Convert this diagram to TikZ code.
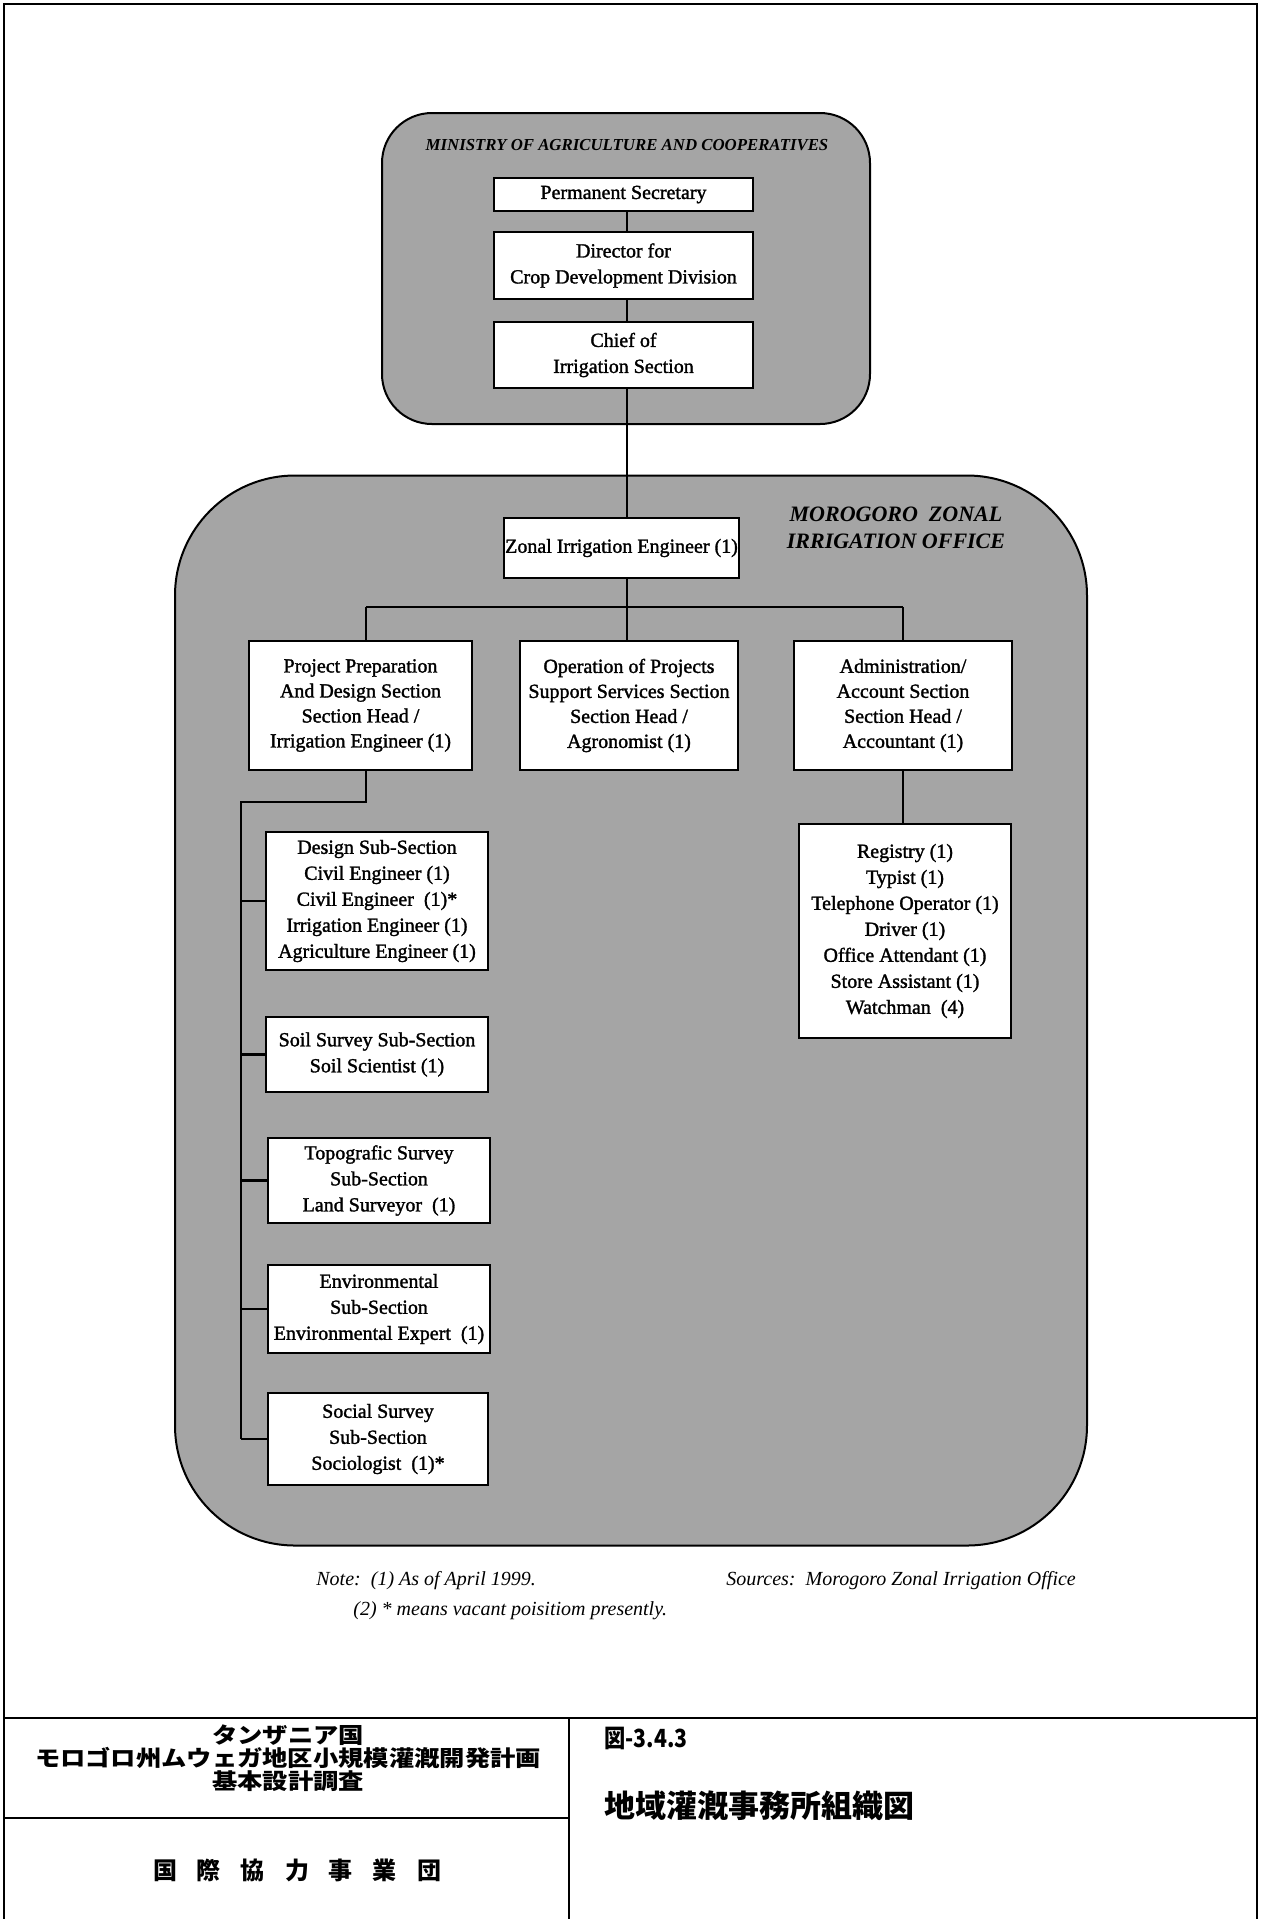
\documentclass[tikz,border=0pt]{standalone}
\usepackage{fontspec}
\setmainfont{Liberation Serif}
\newfontfamily\boxfont{Liberation Serif}[FakeBold=1.5]
\newfontfamily\headfont{Liberation Serif}
\newfontfamily\notefont{Liberation Serif}
\newfontfamily\cjk{Noto Sans CJK JP}
\newfontfamily\cjkwide{Noto Sans CJK JP}[FakeStretch=1.15]
\newfontfamily\cjknarrow{Noto Sans CJK JP}[FakeStretch=0.85]
\definecolor{halftone}{RGB}{165,165,165}
\tikzset{
  zone/.style={draw, line width=1pt, fill=halftone, inner sep=0pt},
  orgbox/.style={draw, line width=1.3pt, fill=white, align=center, inner sep=0pt,
    font=\boxfont\fontsize{10}{13}\selectfont},
  link/.style={line width=1.3pt},
  frameline/.style={line width=1pt},
  label/.style={inner sep=0pt},
  jp/.style={inner sep=0pt, font=\cjkwide\bfseries\fontsize{11}{13}\selectfont},
}
\begin{document}
\begin{tikzpicture}[x=0.5pt,y=-0.5pt]
\useasboundingbox (0,0) rectangle (1261,1919);

% sheet frame and title block rules
\draw[frameline] (4,1919) -- (4,4) -- (1257,4) -- (1257,1919);
\draw[frameline] (4,1718) -- (1257,1718);
\draw[frameline] (569,1718) -- (569,1919);
\draw[frameline] (4,1818) -- (569,1818);

% grouping panels
\node[zone, rounded corners=25pt, minimum width=244pt, minimum height=155.5pt] (ministry) at (626,268.5) {};
\node[zone, rounded corners=60pt, minimum width=456pt, minimum height=535pt] (office) at (631,1010.5) {};

\node[label, font=\headfont\bfseries\itshape\fontsize{8.4}{10}\selectfont] (mintitle) at (627,145) {MINISTRY OF AGRICULTURE AND COOPERATIVES};
\node[label, align=center, font=\headfont\bfseries\itshape\fontsize{11}{13.5}\selectfont] (offtitle) at (896,528) {MOROGORO\ \ ZONAL\\IRRIGATION OFFICE};

% ministry posts
\node[orgbox, minimum width=129.5pt, minimum height=16.5pt] (perm) at (623.5,194.5) {Permanent Secretary};
\node[orgbox, minimum width=129.5pt, minimum height=33.5pt] (dir) at (623.5,265.5) {Director for\\Crop Development Division};
\node[orgbox, minimum width=129.5pt, minimum height=33pt] (chief) at (623.5,355) {Chief of\\Irrigation Section};

% zonal office posts
\node[orgbox, minimum width=117.5pt, minimum height=30pt] (zonal) at (621.5,548) {Zonal Irrigation Engineer (1)};
\node[orgbox, minimum width=111.5pt, minimum height=64.5pt, font=\boxfont\fontsize{10}{12.5}\selectfont] (proj) at (360.5,705.5)
  {Project Preparation\\And Design Section\\Section Head /\\Irrigation Engineer (1)};
\node[orgbox, minimum width=109pt, minimum height=64.5pt, font=\boxfont\fontsize{10}{12.5}\selectfont] (ops) at (629,705.5)
  {Operation of Projects\\Support Services Section\\Section Head /\\Agronomist (1)};
\node[orgbox, minimum width=109pt, minimum height=64.5pt, font=\boxfont\fontsize{10}{12.5}\selectfont] (admin) at (903,705.5)
  {Administration/\\Account Section\\Section Head /\\Accountant (1)};

\node[orgbox, minimum width=111pt, minimum height=69pt] (design) at (377,901)
  {Design Sub-Section\\Civil Engineer (1)\\Civil Engineer\ \ (1)*\\Irrigation Engineer (1)\\Agriculture Engineer (1)};
\node[orgbox, minimum width=111pt, minimum height=37.5pt] (soil) at (377,1054.5)
  {Soil Survey Sub-Section\\Soil Scientist (1)};
\node[orgbox, minimum width=111pt, minimum height=42.5pt] (topo) at (379,1180.5)
  {Topografic Survey\\Sub-Section\\Land Surveyor\ \ (1)};
\node[orgbox, minimum width=111pt, minimum height=44pt] (env) at (379,1309)
  {Environmental\\Sub-Section\\Environmental Expert\ \ (1)};
\node[orgbox, minimum width=110pt, minimum height=46pt] (social) at (378,1439)
  {Social Survey\\Sub-Section\\Sociologist\ \ (1)*};

\node[orgbox, minimum width=106pt, minimum height=107pt] (staff) at (905,931)
  {Registry (1)\\Typist (1)\\Telephone Operator (1)\\Driver (1)\\Office Attendant (1)\\Store Assistant (1)\\Watchman\ \ (4)};

% reporting lines
\coordinate (spine) at (627,607);
\coordinate (lx) at (366,607);
\coordinate (rx) at (903,607);
\coordinate (lelbow) at (366,802);
\coordinate (trunk) at (241,802);

\draw[link] (perm.south -| spine) -- (dir.north -| spine);
\draw[link] (dir.south -| spine) -- (chief.north -| spine);
\draw[link] (chief.south -| spine) -- (zonal.north -| spine);
\draw[link] (zonal.south -| spine) -- (ops.north -| spine);
\draw[link] (lx) -- (rx);
\draw[link] (lx) -- (proj.north -| lx);
\draw[link] (rx) -- (admin.north -| rx);
\draw[link] (proj.south -| lx) -- (lelbow) -- (trunk) -- (social.west -| trunk);
\draw[link] (design.west -| trunk) -- (design.west);
\draw[link] (soil.west -| trunk) -- (soil.west);
\draw[link] (topo.west -| trunk) -- (topo.west);
\draw[link] (env.west -| trunk) -- (env.west);
\draw[link] (social.west -| trunk) -- (social.west);
\draw[link] (admin.south -| rx) -- (staff.north -| rx);

% notes
\node[label, anchor=west, font=\notefont\itshape\fontsize{10}{12}\selectfont] (note1) at (316,1581) {Note:\ \ (1) As of April 1999.};
\node[label, anchor=west, font=\notefont\itshape\fontsize{10}{12}\selectfont] (note2) at (353,1611) {(2) * means vacant poisitiom presently.};
\node[label, anchor=west, font=\notefont\itshape\fontsize{10}{12}\selectfont] (source) at (726,1581) {Sources:\ \ Morogoro Zonal Irrigation Office};

% title block
\node[jp] (country) at (288,1735) {タンザニア国};
\node[jp] (project) at (288,1758) {モロゴロ州ムウェガ地区小規模灌漑開発計画};
\node[jp] (study) at (288,1781) {基本設計調査};
\node[inner sep=0pt, font=\cjk\bfseries\fontsize{12}{14}\selectfont] (agency) at (297,1870) {国\hspace{10pt}際\hspace{10pt}協\hspace{10pt}力\hspace{10pt}事\hspace{10pt}業\hspace{10pt}団};
\node[inner sep=0pt, anchor=west, font=\cjknarrow\bfseries\fontsize{12.5}{14}\selectfont] (fignum) at (604,1738) {図-3.4.3};
\node[inner sep=0pt, anchor=west, font=\cjk\bfseries\fontsize{15.5}{17}\selectfont] (figtitle) at (604,1806) {地域灌漑事務所組織図};
\end{tikzpicture}
\end{document}
